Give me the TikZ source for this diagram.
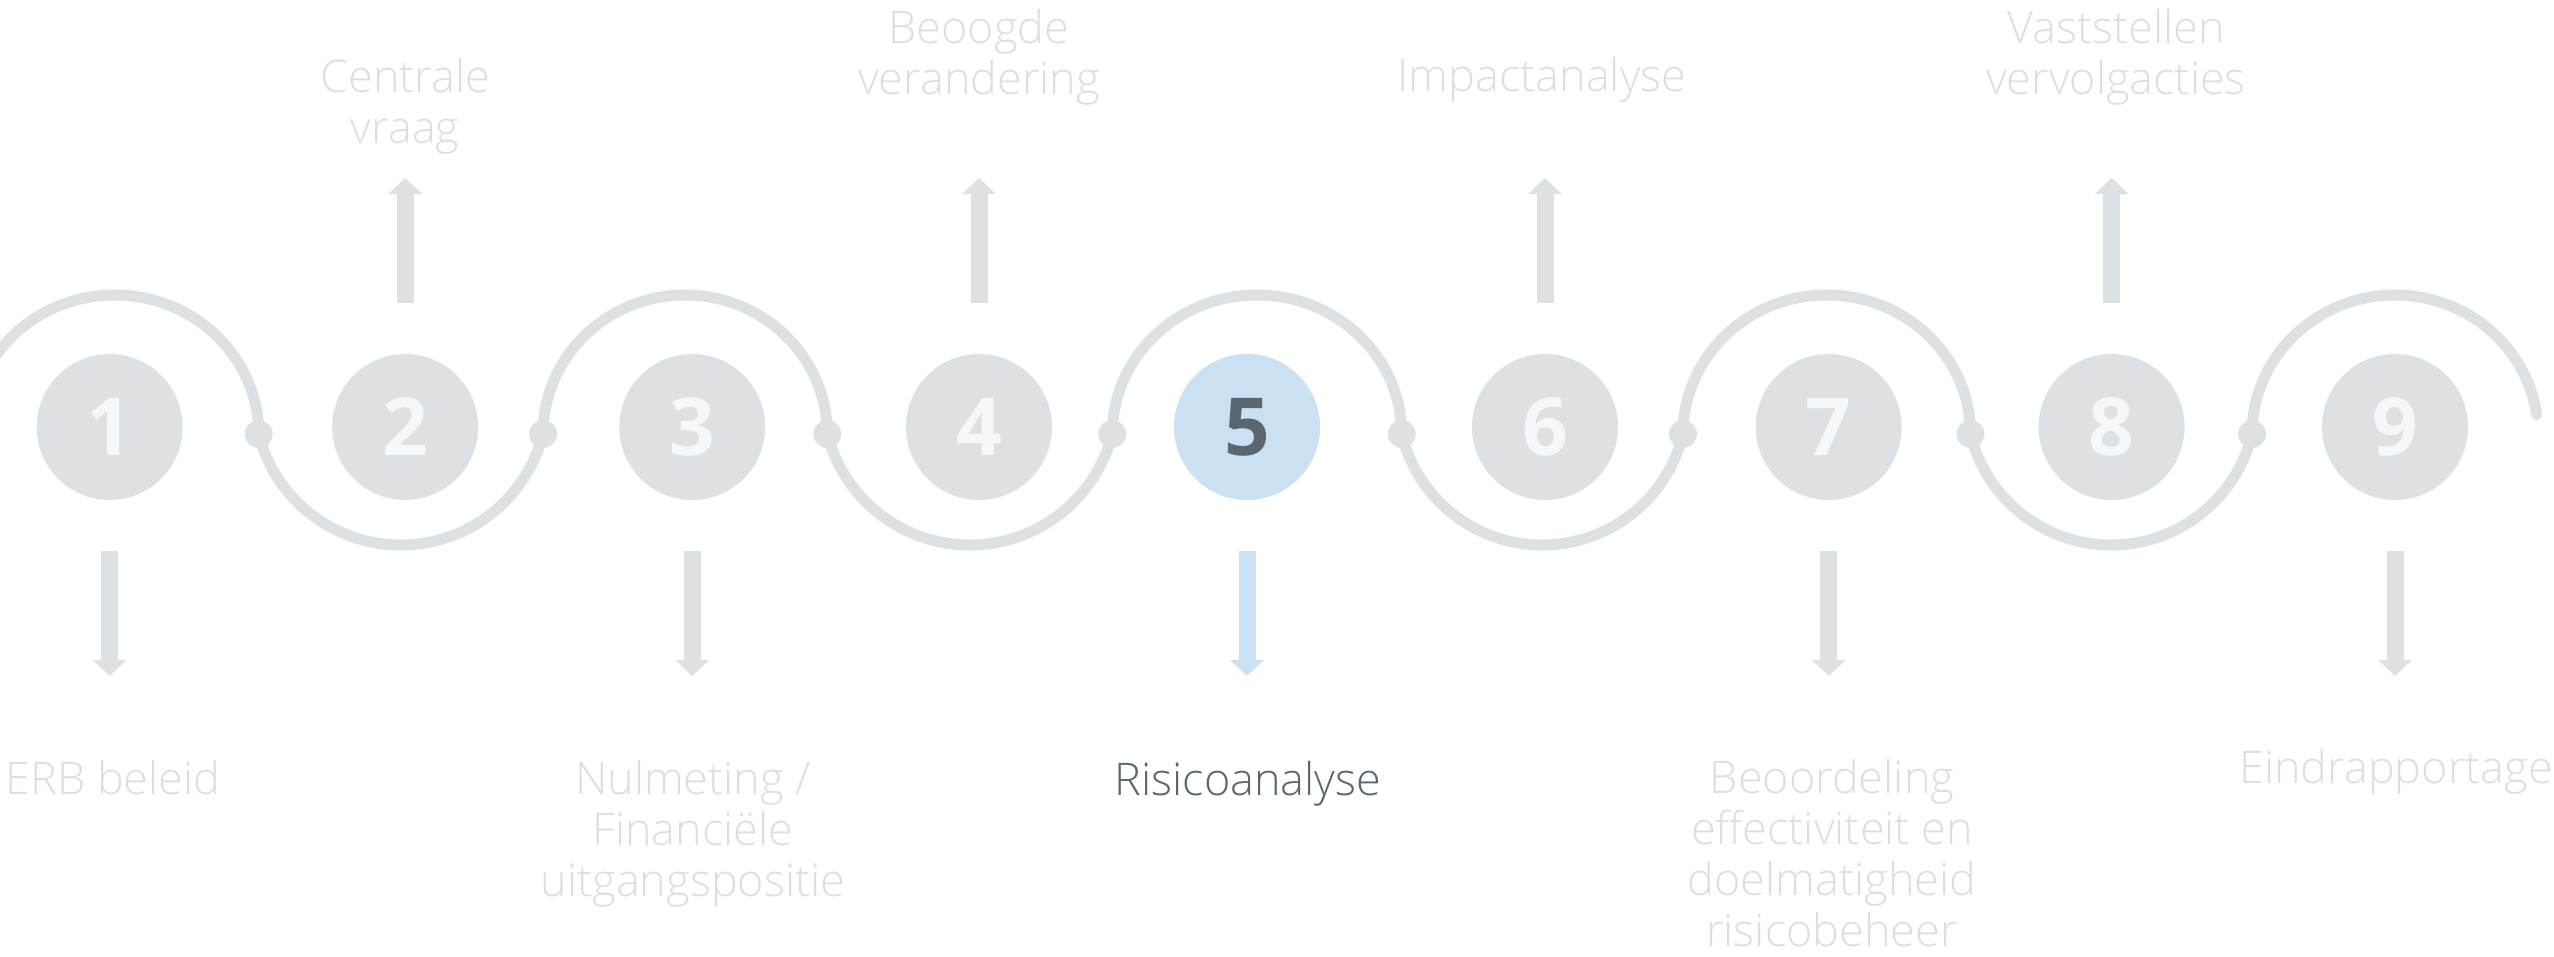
\documentclass[tikz,border=0pt]{standalone}
\usepackage{fontspec}
\setmainfont{Open Sans}
\newfontfamily\lightfont{Open Sans Light}
\usetikzlibrary{arrows.meta}
\definecolor{grayc}{RGB}{222,225,228}
\definecolor{bluec}{RGB}{201,225,242}
\definecolor{digitc}{RGB}{247,247,247}
\definecolor{darkc}{RGB}{90,102,112}
\definecolor{labelc}{RGB}{220,223,226}
\begin{document}
\begin{tikzpicture}[x=1pt,y=-1pt,
  stepcircle/.style={circle, fill=grayc, minimum size=146pt, inner sep=0pt, text=digitc,
    font=\fontsize{80}{80}\selectfont\bfseries},
  activecircle/.style={stepcircle, fill=bluec, text=darkc},
  junctiondot/.style={circle, fill=grayc, minimum size=28pt, inner sep=0pt},
  wave/.style={draw=grayc, line width=11pt},
  uparrow/.style={draw=grayc, line width=17pt, -{Triangle[width=33pt,length=16pt]}},
  activearrow/.style={uparrow, draw=bluec, fill=bluec},
  steplabel/.style={font=\fontsize{45}{51}\selectfont\lightfont, text=labelc, align=center,
    anchor=base, inner sep=0pt},
  activelabel/.style={steplabel, text=darkc}]
\useasboundingbox (0,0) rectangle (2554,956);

% junctions
\coordinate (j1) at (258.7,434);
\coordinate (j2) at (543,434);
\coordinate (j3) at (827.3,434);
\coordinate (j4) at (1112.3,434);
\coordinate (j5) at (1401.7,434);
\coordinate (j6) at (1683,434);
\coordinate (j7) at (1970.5,434);
\coordinate (j8) at (2252,434);
\coordinate (e9) at (2536.6,414.7);

% wave
\draw[wave] (j1) arc[start angle=0, end angle=171, x radius=144pt, y radius=139pt];
\draw[wave] (j1) arc[start angle=194.03, end angle=345.97, radius=146.52pt];
\draw[wave] (j2) arc[start angle=180, end angle=0, x radius=142.15pt, y radius=139pt];
\draw[wave] (j3) arc[start angle=194.17, end angle=345.83, radius=146.97pt];
\draw[wave] (j4) arc[start angle=180, end angle=0, x radius=144.7pt, y radius=139pt];
\draw[wave] (j5) arc[start angle=193.44, end angle=346.56, radius=144.61pt];
\draw[wave] (j6) arc[start angle=180, end angle=0, x radius=143.75pt, y radius=139pt];
\draw[wave] (j7) arc[start angle=193.48, end angle=346.52, radius=144.74pt];
\draw[wave, line cap=round] (e9) arc[start angle=8, end angle=180, x radius=143pt, y radius=139pt];

\foreach \j in {1,...,8} \node[junctiondot] at (j\j) {};

% circles
\node[stepcircle] (c1) at (109.7,427) {1};
\node[stepcircle] (c2) at (405.2,427) {2};
\node[stepcircle] (c3) at (692.2,427) {3};
\node[stepcircle] (c4) at (979,427) {4};
\node[activecircle] (c5) at (1247,427) {5};
\node[stepcircle] (c6) at (1545,427) {6};
\node[stepcircle] (c7) at (1828.7,427) {7};
\node[stepcircle] (c8) at (2111.6,427) {8};
\node[stepcircle] (c9) at (2395,427) {9};

% arrows
\foreach \k in {2,4,6,8} {
  \coordinate (a\k) at ([yshift=124pt]c\k.center);
  \coordinate (b\k) at ([yshift=249pt]c\k.center);
  \draw[uparrow] (a\k) -- (b\k);
}
\foreach \k in {1,3,7,9} {
  \coordinate (a\k) at ([yshift=-124pt]c\k.center);
  \coordinate (b\k) at ([yshift=-249pt]c\k.center);
  \draw[uparrow] (a\k) -- (b\k);
}
\coordinate (a5) at ([yshift=-124pt]c5.center);
\coordinate (b5) at ([yshift=-249pt]c5.center);
\draw[activearrow] (a5) -- (b5);

% labels (anchor = baseline of the last line)
\node[steplabel] (l2) at (405.2,143) {Centrale\\vraag};
\node[steplabel] (l4) at (979,94) {Beoogde\\verandering};
\node[steplabel] (l6) at (1542,91) {Impactanalyse};
\node[steplabel] (l8) at (2116,94) {Vaststellen\\vervolgacties};
\node[steplabel] (l1) at (113,794) {ERB beleid};
\node[steplabel] (l3) at (693,896) {Nulmeting /\\Financiële\\uitgangspositie};
\node[activelabel] (l5) at (1248,795) {Risicoanalyse};
\node[steplabel] (l7) at (1832,946) {Beoordeling\\effectiviteit en\\doelmatigheid\\risicobeheer};
\node[steplabel] (l9) at (2396,783) {Eindrapportage};
\end{tikzpicture}
\end{document}
